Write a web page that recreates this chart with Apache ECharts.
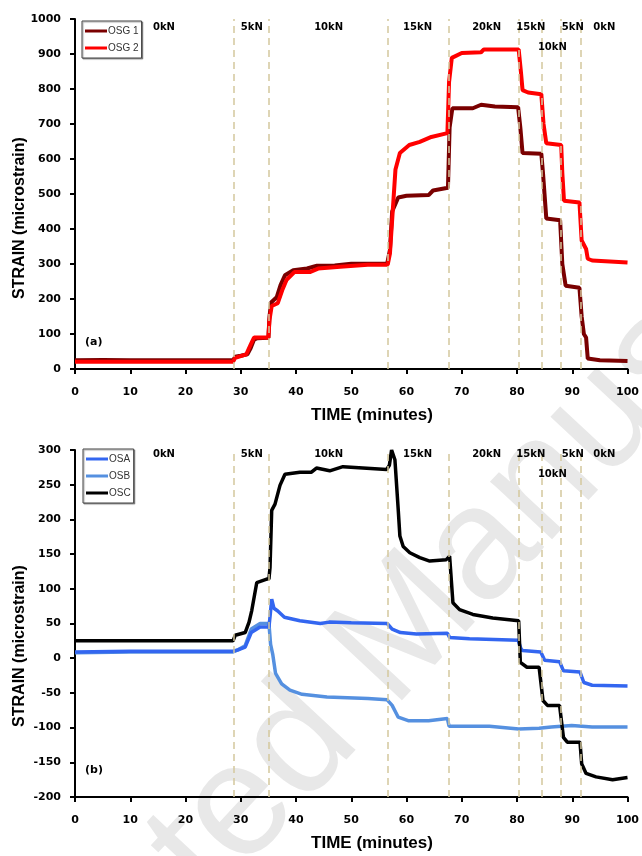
<!DOCTYPE html>
<html>
<head>
<meta charset="utf-8">
<script src="https://cdn.jsdelivr.net/npm/echarts@6.0.0/dist/echarts.min.js"></script>
<style>
html,body{margin:0;padding:0;background:#fff;}
#chart{width:642px;height:856px;}
</style>
</head>
<body>
<div id="chart"></div>
<script>
// ---- data ----
const osg1 = [[0,25],[5,26],[10,25],[15,25],[20,25],[25,25],[28.6,25],[29,35],[30,38],[31.2,42],[31.8,60],[32.4,84],[33,88],[35,89],[35.2,150],[35.5,190],[36.5,205],[37.2,240],[38,268],[39.5,282],[42,287],[43.8,295],[47,296],[50,301],[56.5,301],[57,340],[57.4,450],[58.5,490],[60,495],[64,497],[64.8,510],[67.5,518],[67.8,690],[68.3,745],[72,745],[73.5,755],[76,750],[80.2,748],[80.6,690],[81,617],[84.4,615],[84.7,560],[85.3,430],[87.8,425],[88.2,300],[88.8,238],[91.3,232],[91.7,150],[92.1,100],[92.5,90],[92.8,30],[95,25],[100,23]];
const osg2 = [[0,21],[10,21],[20,21],[28.6,21],[29,32],[31,42],[31.8,70],[32.4,90],[35,90],[35.2,140],[35.6,180],[36.7,188],[37.5,225],[38.3,255],[39.7,277],[42.5,277],[44,287],[48,292],[53,298],[56.6,298],[57,330],[57.5,450],[58,570],[58.8,617],[60.5,640],[62.4,649],[64.5,663],[67.4,674],[67.7,820],[68.2,889],[70,903],[73.5,905],[74,913],[80.3,913],[80.7,850],[81,797],[82,790],[84.4,785],[84.8,700],[85.3,645],[88,640],[88.2,560],[88.5,481],[91.3,476],[91.7,367],[92.5,343],[92.8,315],[93.6,310],[100,304]];
const osa = [[0,9],[10,10],[20,10],[28.6,10],[29.5,12],[30.8,16],[31.9,37],[33.5,45],[35.1,45],[35.3,60],[35.6,85],[36,72],[36.7,68],[37.9,59],[40.7,54],[44.4,50],[46,52],[50,51],[56.5,50],[57.4,42],[58.9,37],[61.8,35],[67.4,36],[67.8,30],[71.4,28],[80.2,26],[80.7,14],[81,11],[84.3,9],[85,-3],[87.7,-5],[88.4,-18],[91.4,-20],[92.1,-35],[93.6,-39],[100,-40]];
const osb = [[0,8],[10,9],[20,9],[28.6,9],[29.5,12],[30.8,18],[31.9,42],[33.5,50],[35.1,50],[35.4,20],[35.8,5],[36.3,-22],[37.4,-37],[38.9,-46],[41.1,-52],[45.6,-56],[53,-58],[56.5,-60],[57.4,-68],[58.5,-85],[60.3,-90],[64,-90],[67.4,-87],[67.7,-98],[75,-98],[80.3,-102],[84,-101],[86.2,-99],[89.9,-97],[93.6,-99],[100,-99]];
const osc = [[0,25],[10,25],[20,25],[28.6,25],[29,33],[30.8,37],[31.5,52],[32,69],[32.9,109],[34.7,114],[35.1,114],[35.3,131],[35.6,213],[36.2,222],[37.1,249],[38,265],[40.7,268],[42.8,268],[43.7,274],[46.1,270],[48.5,276],[56.4,272],[56.9,278],[57.3,300],[57.9,286],[58.5,214],[58.8,176],[59.4,161],[60.6,152],[62.4,145],[64.2,140],[67.2,142],[67.8,147],[68.4,80],[69.6,70],[72,63],[75.6,58],[80.3,54],[80.6,-6],[81.8,-13],[84,-13],[84.7,-61],[85.5,-68],[87.7,-68],[88.4,-114],[89.1,-121],[91.4,-121],[91.7,-152],[92.5,-166],[94.3,-171],[97.3,-175],[100,-172]];
const stageLines = [28.7, 35.1, 56.6, 67.6, 80.3, 84.5, 88.0, 91.5];
const loadLabels = ['0kN','5kN','10kN','15kN','20kN','15kN','10kN','5kN','0kN'];
const loadLabelTimes = [16.1, 32.0, 45.9, 62.0, 74.5, 82.5, 86.4, 90.1, 95.8];
const loadLabelRow = [0,0,0,0,0,0,1,0,0];
const xTicks = [0,100,10];
const yTicksA = [0,1000,100];
const yTicksB = [-200,300,50];

// ---- chart ----
const chart = echarts.init(document.getElementById('chart'), null, {renderer:'canvas'});
const lblFont = {fontFamily:'DejaVu Sans', fontWeight:'bold', fontSize:11, color:'#000', formatter: v => String(v)};
const G = [{left:75, top:19, width:553, height:350}, {left:75, top:450, width:553, height:347}];

function xAx(idx){
  return {type:'value', gridIndex:idx, min:xTicks[0], max:xTicks[1], interval:xTicks[2],
    axisLine:{onZero:false, lineStyle:{color:'#000', width:2}},
    axisTick:{inside:false, length:5, lineStyle:{color:'#000', width:2}},
    axisLabel:Object.assign({margin:18}, lblFont), splitLine:{show:false}};
}
function yAx(idx, t){
  return {type:'value', gridIndex:idx, min:t[0], max:t[1], interval:t[2],
    axisLine:{onZero:false, lineStyle:{color:'#000', width:2}},
    axisTick:{inside:false, length:5, lineStyle:{color:'#000', width:2}},
    axisLabel:Object.assign({margin:14}, lblFont), splitLine:{show:false}};
}
const vlines = {silent:true, symbol:'none', label:{show:false},
  lineStyle:{color:'#d3c79d', type:[7,5], width:1.5}, data: stageLines.map(v=>({xAxis:v}))};

function ser(name, data, color, idx, width, ml){
  const s = {name, type:'line', data, xAxisIndex:idx, yAxisIndex:idx, showSymbol:false, symbol:'none',
    lineStyle:{color, width}, itemStyle:{color}, z:3, animation:false};
  if (ml) s.markLine = vlines;
  return s;
}
const legStyle = {orient:'vertical', icon:'rect', itemWidth:22, itemHeight:3, itemGap:7,
  backgroundColor:'#fff', borderColor:'#444', borderWidth:1, padding:[5,3,5,3],
  shadowColor:'rgba(0,0,0,0.35)', shadowOffsetX:1, shadowOffsetY:1, shadowBlur:1,
  textStyle:{fontFamily:'Liberation Sans', fontSize:10, color:'#333', padding:[0,0,0,-4]}};

const option = {
  animation:false,
  backgroundColor:'#fff',
  grid: G,
  xAxis:[xAx(0), xAx(1)],
  yAxis:[yAx(0,yTicksA), yAx(1,yTicksB)],
  legend:[
    Object.assign({left:82, top:21, data:['OSG 1','OSG 2']}, legStyle),
    Object.assign({left:83, top:449, data:['OSA','OSB','OSC']}, legStyle)
  ],
  series:[
    ser('OSG 1', osg1, '#7a0000', 0, 4, true),
    ser('OSG 2', osg2, '#ff0000', 0, 4, false),
    ser('OSB', osb, '#5590e0', 1, 3.5, true),
    ser('OSA', osa, '#3366f0', 1, 3.5, false),
    ser('OSC', osc, '#000000', 1, 3.5, false)
  ]
};
chart.setOption(option);

// ---- texts ----
const g = [];
// watermark
g.push({type:'group', x:406, y:631, rotation:47*Math.PI/180, z:-10, silent:true, children:[
  {type:'text', style:{text:'Accepted Manuscript', x:-778, y:0, verticalAlign:'middle',
    font:'160px "Liberation Sans"', fill:'#e8e8e8'}}]});
const titleFont = 'bold 17px "Liberation Sans"';
[[415],[843]].forEach(([y])=>{
  g.push({type:'text', z:10, style:{text:'TIME (minutes)', x:372, y, align:'center', verticalAlign:'middle', font:titleFont, fill:'#000'}});
});
[[218],[646]].forEach(([y])=>{
  g.push({type:'text', z:10, x:20, y, rotation:Math.PI/2, style:{text:'STRAIN (microstrain)', x:0, y:0, align:'center', verticalAlign:'middle', font:'bold 16px "Liberation Sans"', fill:'#000'}});
});
g.push({type:'text', z:10, style:{text:'(a)', x:85, y:342, verticalAlign:'middle', font:'bold 11px "DejaVu Sans"', fill:'#000'}});
g.push({type:'text', z:10, style:{text:'(b)', x:85, y:770, verticalAlign:'middle', font:'bold 11px "DejaVu Sans"', fill:'#000'}});
[0,1].forEach(gi=>{
  loadLabels.forEach((lab,i)=>{
    const px = chart.convertToPixel({xAxisIndex:gi}, loadLabelTimes[i]);
    const y = G[gi].top + (gi===0?8:4) + loadLabelRow[i]*20;
    g.push({type:'text', z:10, style:{text:lab, x:px, y, align:'center', verticalAlign:'middle', font:'bold 10px "DejaVu Sans"', fill:'#000'}});
  });
});
chart.setOption({graphic:g});
</script>
</body>
</html>
